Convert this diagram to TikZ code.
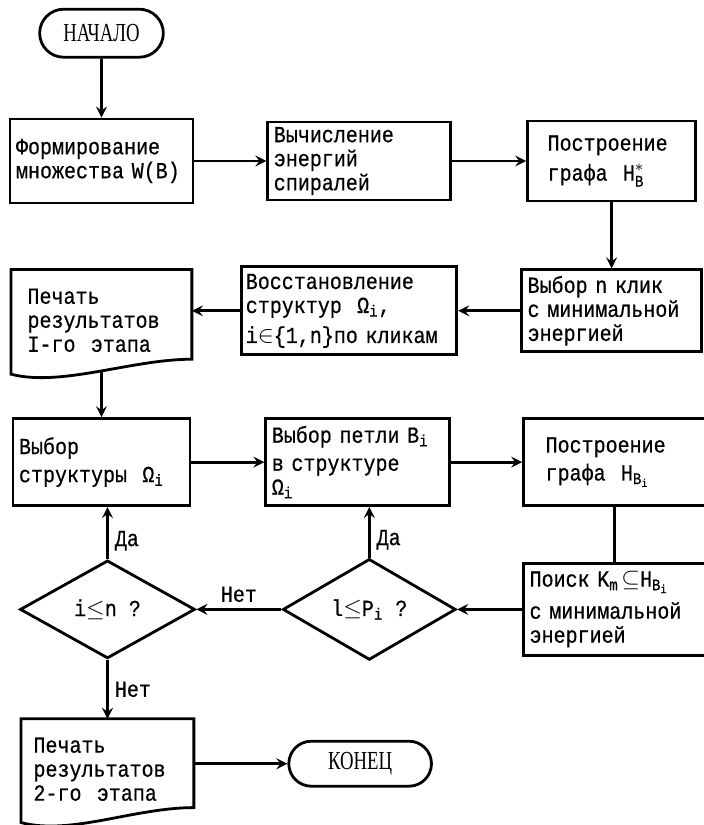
\documentclass[tikz,border=0pt]{standalone}
\usepackage{amsmath}
\usepackage{fontspec}
\setmainfont{Liberation Mono}[FakeStretch=0.87, FakeBold=0.6]
\newfontfamily\capsfont{Liberation Serif}[FakeStretch=0.72]
\usepackage{tikz}
\usetikzlibrary{shapes.geometric, shapes.misc, arrows, positioning, calc}
\tikzstyle{startstop} = [rounded rectangle, minimum width=68.5pt, minimum height=24pt, draw=black, line width=1.4pt, font=\capsfont\fontsize{13pt}{13pt}\selectfont]
\tikzstyle{process} = [rectangle, draw=black, line width=1.4pt, align=left, inner xsep=3pt, inner ysep=1pt]
\tikzstyle{printout} = [rectangle, align=left, inner xsep=8pt, inner ysep=1pt]
\tikzstyle{decision} = [diamond, draw=black, line width=1.4pt, inner sep=0pt]
\tikzstyle{arrow} = [line width=1.4pt,->,>=stealth]
\tikzstyle{lbl} = [inner sep=3pt]
\newcommand{\printborder}[1]{%
  \draw[line width=1.4pt] (#1.north west) -- (#1.north east) -- ($(#1.south east)+(0,6pt)$)
    .. controls ($(#1.south east)+(-30pt,6pt)$) and ($(#1.south west)+(25pt,-8pt)$) .. ($(#1.south west)+(0,-1.5pt)$) -- cycle;}

\begin{document}
\begin{tikzpicture}[font=\fontsize{11.5pt}{12pt}\selectfont]
    \useasboundingbox (-50.75pt,80.5pt) rectangle (300.75pt,-332pt);
    % top row
    \node (f1) [process, text width=85.5pt, minimum height=42pt] {Формирование\\множества~W(B)};
    \node (start) [startstop, above=29.5pt of f1] {НАЧАЛО};
    \node (f2) [process, text width=85.5pt, minimum height=39pt, right=36pt of f1] {Вычисление\\энергий\\спиралей};
    \node (f3) [process, text width=64pt, inner xsep=10pt, minimum height=40pt, right=37pt of f2] {Построение\\[3pt]графа~ H$^{*}_{\text{B}}$};
    \node (f4) [process, text width=84pt, minimum height=41pt, below=33pt of f3] {Выбор n клик\\с~минимальной\\энергией};
    \node (f5) [process, text width=103.5pt, inner xsep=2pt, minimum height=44pt, left=31pt of f4] {Восстановление\\структур~ Ω$_{\text{i}}$,\\[3pt]i$\in$\{1,n\}по~кликам};
    \node (d1) [printout, text width=74pt, minimum height=50.5pt, below=32.5pt of f1] {Печать\\результатов\\I-го~~этапа};
    % loop over structures
    \node (f6) [process, text width=82.5pt, minimum height=43.5pt, below=23pt of d1] {Выбор\\[2pt]структуры~ Ω$_{\text{i}}$};
    \node (f7) [process, text width=86pt, minimum height=43.5pt, right=36.5pt of f6] {Выбор~петли~B$_{\text{i}}$\\[2pt]в~структуре\\Ω$_{\text{i}}$};
    \node (f8) [process, text width=69pt, inner xsep=11pt, minimum height=43.5pt, right=35.5pt of f7] {Построение\\[2pt]графа~ H$_{\text{B}_{\text{i}}}$};
    \node (f9) [process, text width=85pt, minimum height=46pt, below=27.5pt of f8] {Поиск~K$_{\text{m}}\!\subseteq$H$_{\text{B}_{\text{i}}}$\\[4pt]с~минимальной\\энергией};
    \node (q2) [decision, minimum width=86.5pt, minimum height=50.5pt, left=32.5pt of f9] {l$\leq$P$_{\text{i}}$~?};
    \node (q1) [decision, minimum width=87.5pt, minimum height=49pt, left=42.5pt of q2] {i$\leq$n~?};
    \node (d2) [printout, text width=74pt, inner xsep=6pt, minimum height=50pt, below=29.5pt of q1] {Печать\\результатов\\2-го~~этапа};
    \node (stop) [startstop, minimum width=78pt, minimum height=22.5pt, right=46.75pt of d2, yshift=2.75pt] {КОНЕЦ};
    \printborder{d1}
    \printborder{d2}
    \draw[arrow] (start) -- (f1);
    \draw[arrow] (f1) -- (f2);
    \draw[arrow] (f2) -- (f3);
    \draw[arrow] (f3) -- (f4);
    \draw[arrow] (f4) -- (f5);
    \draw[arrow] (f5.west) -- (f5.west -| d1.east);
    \draw[arrow] (d1) -- (f6);
    \draw[arrow] (f6) -- (f7);
    \draw[arrow] (f7) -- (f8);
    \draw[line width=1.4pt] (f8) -- (f9);
    \draw[arrow] (f9) -- (q2);
    \draw[arrow] (q2.north) -- node[lbl, pos=0.35, right] {Да} (q2.north |- f7.south);
    \draw[arrow] (q2) -- node[lbl, above] {Нет} (q1);
    \draw[arrow] (q1.north) -- node[lbl, pos=0.35, right] {Да} (q1.north |- f6.south);
    \draw[arrow] (q1) -- node[lbl, right] {Нет} (d2);
    \draw[arrow] (d2.east |- stop.west) -- (stop.west);
\end{tikzpicture}
\end{document}
